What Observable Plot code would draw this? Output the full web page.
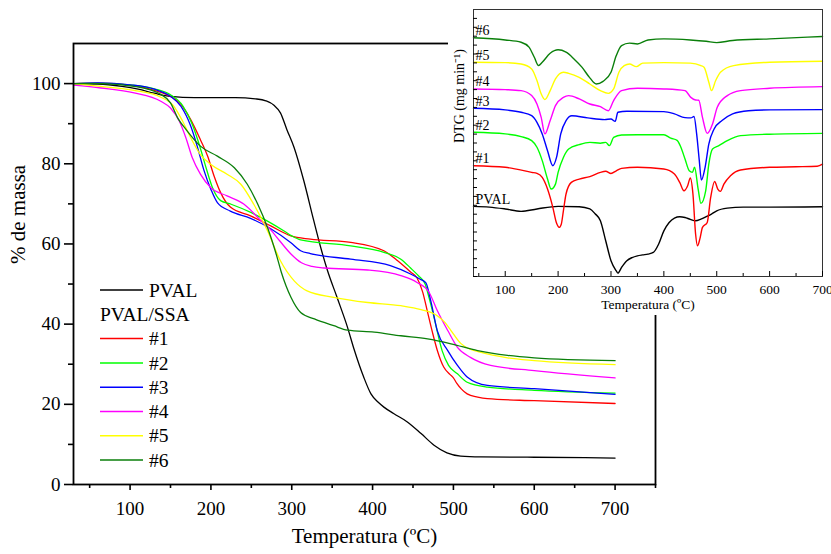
<!DOCTYPE html>
<html><head><meta charset="utf-8">
<script src="https://cdn.jsdelivr.net/npm/d3@7"></script>
<script src="https://cdn.jsdelivr.net/npm/@observablehq/plot@0.6"></script>
<style>
html,body{margin:0;padding:0;background:#fff;}
#wrap{position:relative;width:831px;height:554px;overflow:hidden;background:#fff;}
#main{position:absolute;left:0;top:0;}
#inset{position:absolute;left:448px;top:0;width:383px;height:315px;background:#fff;overflow:hidden;}
#wrap svg, #wrap svg text, #wrap svg tspan{font-family:"Times New Roman",serif !important;}
</style></head>
<body><div id="wrap"><div id="main"></div><div id="inset"></div></div>
<script>
// ---------- series ----------
const seriesNames = ["PVAL", "#1", "#2", "#3", "#4", "#5", "#6"];
const seriesColors = ["#000000", "#ff0000", "#00ff00", "#0000ff", "#ff00ff", "#ffff00", "#0a7f0a"];

// ---------- TGA (main chart): [temperature °C, % mass] ----------
const tgaPVAL = [[30,100],[60,99.9],[90,99.3],[110,98.6],[130,97.6],[150,96.8],[180,96.5],[230,96.5],[255,96.2],[268,95.7],[278,94.6],[286,92.7],[294,88.5],[303,84],[315,75.7],[327,66],[336,59],[344,53.5],[356,46.7],[369,39.2],[377,33.8],[389,26.8],[398,22.6],[407,20.5],[414,19.3],[426,17.7],[443,15.6],[460,12.7],[476,9.8],[492,7.9],[509,7.1],[534,6.9],[600,6.8],[700,6.6]];
const tga1 = [[30,100],[60,100.1],[100,99.6],[130,98.3],[150,96.8],[163,94.8],[175,91],[187,86],[196,81.9],[204,76.9],[212,72.8],[224,69.2],[249,67],[274,64.5],[299,62],[323,61.2],[373,60.4],[414,58.3],[431,55.8],[447,53],[455,51.5],[462,48],[468,43],[474,38],[480,33.5],[488,29.3],[496,27.4],[500,26.6],[504,25.3],[510,23.8],[517,22.6],[530,21.8],[542,21.4],[600,20.9],[700,20.2]];
const tga2 = [[30,100],[60,100.1],[100,99.7],[130,98.7],[150,97.2],[165,94.5],[177,89.8],[186,84.5],[194,79],[202,74],[212,70.8],[225,69.9],[250,67.8],[270,65.7],[290,63.3],[300,62],[311,61],[373,59.5],[414,57.9],[435,56.2],[447,54],[457,52],[465,50],[470,46.5],[476,41.7],[486,33.4],[494,29.7],[505,27.6],[517,25.5],[542,24.3],[600,23.5],[700,22.8]];
const tga3 = [[30,100],[60,100.2],[100,99.7],[130,98.6],[150,96.8],[163,94.3],[175,89.4],[183,84.4],[191,78.6],[200,73.6],[208,70.3],[224,68.2],[249,66.4],[274,63.8],[299,60.3],[311,58.3],[323,57.6],[373,56.2],[422,54.6],[447,52.5],[459,51.2],[466,50.3],[472,45.8],[480,38.4],[493,33.4],[505,29.7],[517,26.8],[542,24.7],[600,23.9],[700,22.5]];
const tga4 = [[30,99.6],[64,98.9],[105,97.7],[138,95.6],[150,93.9],[161,90.6],[169,86.5],[177,81.5],[187,77.4],[200,74],[220,72],[241,69.9],[262,65.8],[274,63.5],[285,60.8],[299,57.5],[312,55.3],[325,54.4],[340,54],[394,53.5],[435,52.1],[455,50.4],[470,47.9],[480,43.4],[493,38.4],[505,34.2],[521,31.7],[546,29.7],[600,28.4],[700,26.6]];
const tga5 = [[30,100],[64,99.3],[105,98.3],[138,96.6],[154,94.4],[165,90.6],[175,86.5],[187,82.3],[200,79.8],[220,77.4],[237,74.9],[253,69.9],[270,63.3],[286,55.8],[303,50.8],[319,48.3],[352,46.7],[394,45.4],[435,44.6],[460,43.6],[480,42.1],[490,40.3],[497,38.4],[509,35.2],[520,33.8],[533,33],[567,31.6],[600,30.9],[700,29.9]];
const tga6 = [[30,100],[64,100],[105,99.3],[138,97.3],[150,95.2],[159,91.4],[171,88.1],[187,84.4],[208,81.9],[229,79],[245,74.9],[258,69.9],[270,64.1],[282,56.6],[287,53],[293,49.5],[299,46.7],[311,42.9],[328,41.3],[352,39.6],[369,38.5],[402,38],[435,37.1],[468,36.3],[497,35.1],[530,33.4],[567,32.2],[600,31.6],[700,30.9]];

// ---------- DTG (inset, offset curves, arbitrary units 0..100) ----------
const dtgPVAL = [[40,26.25],[70,26],[100,25.3],[130,24.4],[160,25.3],[200,26.25],[240,26.1],[260,25.3],[270,23.5],[280,20.9],[290,13.4],[300,5.9],[310,2.1],[313,1.25],[320,3.4],[330,5.9],[340,7.1],[350,7.75],[360,8.1],[370,8.4],[380,9],[390,12.1],[400,17.1],[410,20.25],[420,21.9],[430,22.4],[440,22.1],[450,21.4],[460,20.9],[470,21.5],[480,22.4],[490,23.4],[500,24.6],[520,25.6],[550,26],[600,26],[700,26.1]];
const dtg1 = [[40,41.5],[100,40.9],[150,39],[160,38.6],[170,37.1],[180,32.75],[190,25.9],[197,20],[202,18.4],[206,19.6],[210,24.6],[215,30.9],[225,35.25],[240,36.5],[260,37.4],[280,39],[290,39.4],[300,38.6],[310,39.6],[320,40.5],[350,40.9],[400,40.25],[420,38.4],[430,35.25],[438,32.1],[445,34],[450,36.9],[455,30.9],[460,15.9],[463.5,11.5],[468,14],[473,18.4],[482,20.25],[488.5,29.6],[496,35.6],[502,32.75],[507,31.9],[513.5,34.6],[526,37.75],[545,39.9],[600,40.9],[650,41.1],[690,41.3],[700,42.1]];
const dtg2 = [[40,54],[100,53.4],[130,52.4],[150,50.9],[160,48.4],[170,43.4],[180,36.5],[187,32.75],[195,34.6],[200,39],[210,44.6],[220,47.75],[240,49.4],[260,50.25],[280,49.9],[290,50.25],[297,49],[305,52.1],[320,53],[350,53.1],[400,53.1],[413,51.8],[425,51],[432,48.5],[440,44],[448,39.6],[454,39],[458,40.9],[465,32.5],[470,27.4],[479,32],[485,42.1],[492,47.75],[504,49],[520,50.9],[545,52.75],[600,53.3],[700,53.6]];
const dtg3 = [[40,63],[100,62.4],[130,61.5],[150,60.25],[160,57.75],[170,53.4],[180,47.1],[190,41.5],[197,44.6],[205,53.4],[215,58.4],[226,60.2],[256,59.4],[288,58.75],[300,59],[308,58.1],[313,61.5],[330,61.9],[400,61.75],[420,60.9],[440,59.5],[451,59.4],[457,59.9],[462,53.4],[467,43.4],[471,36.1],[478,40.9],[485,49.6],[495,55.25],[510,58.4],[530,60.9],[560,62.1],[600,62.4],[700,62.5]];
const dtg4 = [[40,70.25],[100,70],[130,69.6],[150,67.75],[160,64.6],[168,59.6],[175,53.4],[185,58.4],[195,64],[210,67.1],[220,67.75],[240,66.5],[260,64.6],[280,63.6],[295,62.1],[305,65.9],[320,69.6],[350,70.5],[400,70.25],[440,69.6],[451,67.1],[460,66.1],[466,66],[473,59.6],[482,53.6],[492,57.1],[501,63.4],[520,67.75],[545,69.6],[600,70.5],[700,71.1]];
const dtg5 = [[40,80.25],[100,80.1],[130,79.6],[150,77.75],[160,73.4],[168,68.4],[175,66.25],[185,69.6],[195,74],[210,76.5],[220,76.1],[240,74.6],[260,72.1],[280,69.6],[295,68.6],[305,70.25],[315,76.5],[325,79],[335,79.6],[348,78.6],[360,79.9],[400,80.1],[450,79.9],[470,79],[476,78.4],[485,72.75],[490,69.6],[498,73.4],[507,76.5],[532,79],[600,80.25],[700,80.6]];
const dtg6 = [[40,89.4],[100,88.6],[130,87.75],[145,85.9],[155,82.1],[163,79],[170,80.25],[185,83.6],[200,84.9],[215,84],[230,81.5],[245,78.4],[260,74.4],[272,72.1],[285,73.1],[300,76.5],[310,82.75],[320,86.5],[335,87.4],[350,87.1],[370,88.6],[400,89],[450,88.6],[480,88.1],[500,87.6],[530,88.4],[600,89],[700,89.9]];

// ---------- ticks & texts ----------
const xMajor = [100, 200, 300, 400, 500, 600, 700];
const xMinor = [50, 150, 250, 350, 450, 550, 650, 750];
const yMajor = [0, 20, 40, 60, 80, 100];
const yMinor = [10, 30, 50, 70, 90];
const insetXMajor = [100, 200, 300, 400, 500, 600, 700];
const insetXMinor = [50, 150, 250, 350, 450, 550, 650];
const insetYTicks = d3.range(0, 100, 10 / 3);
const xLabel = "Temperatura (ºC)";
const yLabel = "% de massa";
const insetYLabel = "DTG (mg min⁻¹)";
const legendHeader = "PVAL/SSA";

const FONT = '"Times New Roman",serif';

const tgaSets = [tgaPVAL, tga1, tga2, tga3, tga4, tga5, tga6];
const dtgSets = [dtgPVAL, dtg1, dtg2, dtg3, dtg4, dtg5, dtg6];
const tgaRows = tgaSets.flatMap((arr, i) => arr.map(([t, m]) => ({s: seriesNames[i], t, m})));
const dtgRows = dtgSets.flatMap((arr, i) => arr.map(([t, v]) => ({s: seriesNames[i], t, v})));
const dtgLabelRows = dtgSets.map((arr, i) => ({s: seriesNames[i], t: arr[0][0], v: arr[0][1]}));
const colorScale = {domain: seriesNames, range: seriesColors};

// ---------- main TGA chart ----------
const main = Plot.plot({
  width: 831, height: 554,
  marginLeft: 73, marginRight: 176, marginTop: 43, marginBottom: 70,
  style: {fontFamily: FONT, fontSize: "19px", color: "#000", background: "#fff", overflow: "visible"},
  x: {domain: [30, 750]},
  y: {domain: [0, 110]},
  color: colorScale,
  marks: [
    Plot.line(tgaRows, {x: "t", y: "m", z: "s", stroke: "s", strokeWidth: 1.3, curve: "monotone-x"}),
    Plot.frame({stroke: "#000", strokeWidth: 1.8}),
    Plot.axisX({ticks: xMajor, tickSize: 6, tickPadding: 11, fontSize: 19, label: null, strokeWidth: 1.6}),
    Plot.axisX({ticks: xMinor, tickSize: 4, tickFormat: () => "", label: null, strokeWidth: 1.6}),
    Plot.axisY({ticks: yMajor, tickSize: 9, tickPadding: 4, fontSize: 19, label: null, strokeWidth: 1.6}),
    Plot.axisY({ticks: yMinor, tickSize: 5, tickFormat: () => "", label: null, strokeWidth: 1.6}),
    Plot.text([xLabel], {frameAnchor: "bottom", dy: 58, fontSize: 21}),
    Plot.text([yLabel], {frameAnchor: "left", dx: -55, rotate: -90, fontSize: 21})
  ]
});
document.getElementById("main").appendChild(main);

// legend drawn from the series arrays
const lg = d3.select(main).append("g")
  .attr("font-family", FONT).attr("font-size", 19.5).attr("fill", "#000").attr("text-anchor", "start");
const legX = 100, legLine = 43, legTextX = 149, legTop = 290, legStep = 24.3;
const legendRows = [{name: seriesNames[0], color: seriesColors[0], row: 0}, {header: legendHeader, row: 1}]
  .concat(seriesNames.slice(1).map((n, i) => ({name: n, color: seriesColors[i + 1], row: i + 2})));
legendRows.forEach(r => {
  const y = legTop + r.row * legStep;
  if (r.header) {
    lg.append("text").attr("x", legX).attr("y", y).attr("dy", "0.34em").text(r.header);
  } else {
    lg.append("line").attr("x1", legX).attr("x2", legX + legLine).attr("y1", y).attr("y2", y)
      .attr("stroke", r.color).attr("stroke-width", 1.5);
    lg.append("text").attr("x", legTextX).attr("y", y).attr("dy", "0.34em").text(r.name);
  }
});

// ---------- inset DTG chart ----------
const inset = Plot.plot({
  width: 383, height: 315,
  marginLeft: 25, marginRight: 9, marginTop: 9, marginBottom: 39,
  style: {fontFamily: FONT, fontSize: "13.5px", color: "#000", background: "#fff"},
  x: {domain: [40, 700]},
  y: {domain: [0, 100]},
  color: colorScale,
  marks: [
    Plot.line(dtgRows, {x: "t", y: "v", z: "s", stroke: "s", strokeWidth: 1.4, curve: "monotone-x"}),
    Plot.frame({stroke: "#333", strokeWidth: 1}),
    Plot.axisX({ticks: insetXMajor, tickSize: 0, tickPadding: 8, fontSize: 13.5, label: null}),
    Plot.axisX({ticks: insetXMajor, tickSize: -5, tickFormat: () => "", label: null}),
    Plot.axisX({ticks: insetXMinor, tickSize: -3, tickFormat: () => "", label: null}),
    Plot.axisY({ticks: insetYTicks, tickSize: -4, tickFormat: () => "", label: null}),
    Plot.text(dtgLabelRows, {x: "t", y: "v", text: "s", dx: 2, dy: -7, textAnchor: "start", fontSize: 14}),
    Plot.text([insetYLabel], {frameAnchor: "left", dx: -14, rotate: -90, fontSize: 14}),
    Plot.text([xLabel], {frameAnchor: "bottom", dy: 32, fontSize: 13.5})
  ]
});
document.getElementById("inset").appendChild(inset);
</script>
</body></html>
